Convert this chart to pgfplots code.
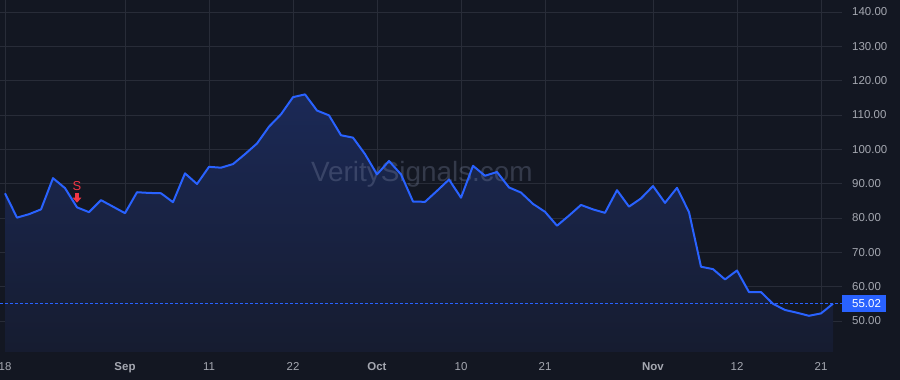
\documentclass[border=0pt]{standalone}
\usepackage{fontspec}
\setmainfont{Liberation Sans}
\usepackage{pgfplots}
\usepackage{pgfplotstable}
\pgfplotsset{compat=1.18}
\definecolor{bg}{RGB}{19,23,34}
\definecolor{gridc}{RGB}{40,44,56}
\definecolor{tickc}{RGB}{165,168,177}
\definecolor{linec}{RGB}{41,98,255}
\definecolor{filltop}{RGB}{27,41,86}
\definecolor{fillbot}{RGB}{22,28,48}
\definecolor{sigred}{RGB}{242,54,69}
\definecolor{wm}{RGB}{140,150,180}

\pgfdeclareplotmark{sigarrow}{%
 \pgfpathmoveto{\pgfpoint{-1.9bp}{5bp}}%
 \pgfpathlineto{\pgfpoint{1.9bp}{5bp}}%
 \pgfpathlineto{\pgfpoint{1.9bp}{0.5bp}}%
 \pgfpathlineto{\pgfpoint{4.4bp}{0.5bp}}%
 \pgfpathlineto{\pgfpoint{0bp}{-4.5bp}}%
 \pgfpathlineto{\pgfpoint{-4.4bp}{0.5bp}}%
 \pgfpathlineto{\pgfpoint{-1.9bp}{0.5bp}}%
 \pgfpathclose
 \pgfusepathqfill}

\pgfplotstableread{
i v
0 87.2
1 80.1
2 81.1
3 82.5
4 91.6
5 88.7
6 83.1
7 81.7
8 85.2
9 83.3
10 81.4
11 87.5
12 87.3
13 87.2
14 84.6
15 93.0
16 89.9
17 94.9
18 94.65
19 95.7
20 98.6
21 101.7
22 106.6
23 110.2
24 115.2
25 116.0
26 111.3
27 109.9
28 104.1
29 103.4
30 98.6
31 92.7
32 96.6
33 92.7
34 84.8
35 84.7
36 87.9
37 91.2
38 85.9
39 95.2
40 92.3
41 93.4
42 88.9
43 87.4
44 84.1
45 81.8
46 77.75
47 80.7
48 83.8
49 82.5
50 81.5
51 88.1
52 83.3
53 85.7
54 89.3
55 84.4
56 88.8
57 81.7
58 65.8
59 65.1
60 62.1
61 64.7
62 58.4
63 58.4
64 55.0
65 53.2
66 52.4
67 51.5
68 52.2
69 55.02
}\pricedata

\begin{document}
\begin{tikzpicture}
\fill[bg] (0,0) rectangle (900bp,380bp);
\useasboundingbox (0,0) rectangle (900bp,380bp);
\begin{axis}[at={(0,28bp)}, anchor=south west, scale only axis,
 width=842bp, height=352bp,
 xmin=-0.417, xmax=69.75, ymin=40.96, ymax=143.5,
 axis line style={draw=none}, major tick length=0pt,
 grid=major, major grid style={gridc, line width=0.8bp},
 xtick={0,10,17,24,31,38,45,54,61,68},
 xticklabels={18,\textbf{Sep},11,22,\textbf{Oct},10,21,\textbf{Nov},12,21},
 ytick={50,60,...,140},
 yticklabel pos=right,
 y tick label style={/pgf/number format/fixed, /pgf/number format/fixed zerofill, /pgf/number format/precision=2, /pgf/number format/assume math mode=true},
 tick label style={font=\fontsize{11.5}{13}\selectfont, text=tickc, inner sep=0pt},
 yticklabel style={anchor=west, xshift=10bp},
 xticklabel style={anchor=base, yshift=-19bp},
 extra y ticks={55.02}, extra y tick labels={\hspace*{5bp}55.02},
 extra y tick style={grid=none, yticklabel style={fill=linec, text=white, xshift=-10bp, inner xsep=5bp, inner ysep=4.3bp}},
]
\addplot[draw=none, top color=filltop, bottom color=fillbot] table[x=i,y=v]{\pricedata} |- (axis cs:0,40.96) -- cycle;
\node[anchor=base, font=\fontsize{28}{30}\selectfont, text=wm, text opacity=0.28] at (rel axis cs:0.501,0.4838) {VeritySignals.com};
\addplot[linec, line width=1.5bp, dash pattern=on 3bp off 2bp] coordinates {(-0.417,55.02) (69.75,55.02)};
\addplot[linec, line width=2bp, line join=round] table[x=i,y=v]{\pricedata};
\addplot[only marks, mark=sigarrow, mark options={fill=sigred, draw=none},
 nodes near coords={S},
 every node near coord/.style={anchor=center, yshift=12.5bp, text=sigred, font=\fontsize{13}{15}\selectfont}]
 coordinates {(6,85.75)};
\end{axis}
\end{tikzpicture}
\end{document}
